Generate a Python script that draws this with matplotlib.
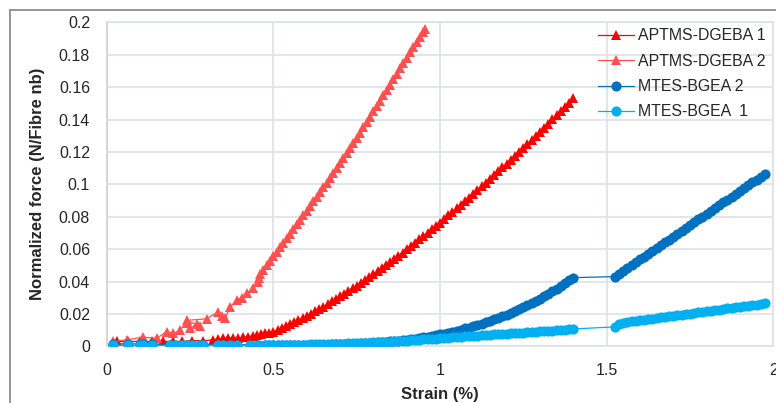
import matplotlib
matplotlib.use("Agg")
import matplotlib.pyplot as plt
from matplotlib.patches import Rectangle

plt.rcParams['font.family'] = ['Liberation Sans', 'DejaVu Sans']

# ---------------- data ----------------
x_ticks = [0, 0.5, 1, 1.5, 2]
x_tick_labels = ["0", "0.5", "1", "1.5", "2"]
y_ticks = [0, 0.02, 0.04, 0.06, 0.08, 0.1, 0.12, 0.14, 0.16, 0.18, 0.2]
y_tick_labels = ["0", "0.02", "0.04", "0.06", "0.08", "0.1", "0.12", "0.14", "0.16", "0.18", "0.2"]

series_names = ["APTMS-DGEBA 1", "APTMS-DGEBA 2", "MTES-BGEA 2", "MTES-BGEA  1"]

# APTMS-DGEBA 1
a1_x = [0.03, 0.065, 0.10, 0.135, 0.17, 0.20, 0.225, 0.255, 0.29, 0.32, 0.335, 0.35, 0.365, 0.38,
        0.395, 0.41, 0.425, 0.44,
        0.45, 0.4625, 0.475, 0.4875, 0.5, 0.5125, 0.525, 0.5375, 0.55, 0.5625, 0.575, 0.5875,
        0.6, 0.6125, 0.625, 0.6375, 0.65, 0.6625, 0.675, 0.6875, 0.7, 0.7125, 0.725, 0.7375,
        0.75, 0.7625, 0.775, 0.7875, 0.8, 0.8125, 0.825, 0.8375, 0.85, 0.8625, 0.875, 0.8875,
        0.9, 0.9125, 0.925, 0.9375, 0.95, 0.9625, 0.975, 0.9875, 1.0, 1.0125, 1.025, 1.0375,
        1.05, 1.0625, 1.075, 1.0875, 1.1, 1.1125, 1.125, 1.1375, 1.15, 1.1625, 1.175, 1.1875,
        1.2, 1.2125, 1.225, 1.2375, 1.25, 1.2625, 1.275, 1.2875, 1.3, 1.3125, 1.325, 1.3375,
        1.35, 1.3625, 1.375, 1.3875, 1.4]
a1_y = [0.003, 0.003, 0.003, 0.003, 0.003, 0.003, 0.003, 0.0035, 0.0035, 0.004, 0.0045, 0.005, 0.005, 0.005,
        0.005, 0.0055, 0.006, 0.0065,
        0.0070, 0.0075, 0.0080, 0.0085, 0.0090, 0.0101, 0.0113, 0.0124, 0.0135, 0.0148, 0.0162, 0.0175,
        0.0188, 0.0202, 0.0217, 0.0231, 0.0245, 0.0261, 0.0277, 0.0292, 0.0308, 0.0325, 0.0342, 0.0358,
        0.0375, 0.0393, 0.0411, 0.0428, 0.0446, 0.0465, 0.0484, 0.0502, 0.0521, 0.0540, 0.0560, 0.0579,
        0.0598, 0.0619, 0.0639, 0.0660, 0.0680, 0.0701, 0.0722, 0.0743, 0.0764, 0.0786, 0.0808, 0.0829,
        0.0851, 0.0873, 0.0896, 0.0918, 0.0940, 0.0963, 0.0987, 0.1010, 0.1033, 0.1057, 0.1081, 0.1104,
        0.1128, 0.1152, 0.1177, 0.1201, 0.1225, 0.1250, 0.1275, 0.1299, 0.1324, 0.1350, 0.1375, 0.1401,
        0.1426, 0.1452, 0.1478, 0.1504, 0.1530]

# APTMS-DGEBA 2
a2_x = [0.02, 0.06, 0.108, 0.15, 0.18, 0.20, 0.22, 0.24, 0.25, 0.27, 0.28, 0.24, 0.30, 0.335, 0.345,
        0.355, 0.37, 0.39, 0.405, 0.42, 0.44, 0.455, 0.457,
        0.46, 0.47, 0.48, 0.49, 0.50, 0.51, 0.52, 0.53, 0.54, 0.55, 0.56, 0.57, 0.58, 0.59,
        0.60, 0.61, 0.62, 0.63, 0.64, 0.65, 0.66, 0.67, 0.68, 0.69, 0.70, 0.71, 0.72, 0.73,
        0.74, 0.75, 0.76, 0.77, 0.78, 0.79, 0.80, 0.81, 0.82, 0.83, 0.84, 0.85, 0.86, 0.87,
        0.88, 0.89, 0.90, 0.91, 0.92, 0.93, 0.94, 0.95, 0.955]
a2_y = [0.003, 0.004, 0.0056, 0.005, 0.009, 0.008, 0.010, 0.0146, 0.011, 0.0138, 0.0125, 0.016, 0.017,
        0.0214, 0.019, 0.0173, 0.024, 0.0286, 0.030, 0.0327, 0.036, 0.0395, 0.042,
        0.0445, 0.0473, 0.0500, 0.0528, 0.0556, 0.0584, 0.0612, 0.0640, 0.0668, 0.0696, 0.0724,
        0.0752, 0.0780, 0.0808, 0.0836, 0.0865, 0.0894, 0.0923, 0.0952, 0.0981, 0.1010, 0.1040,
        0.1070, 0.1100, 0.1130, 0.1161, 0.1192, 0.1223, 0.1255, 0.1287, 0.1319, 0.1352, 0.1385,
        0.1418, 0.1451, 0.1484, 0.1517, 0.1550, 0.1583, 0.1616, 0.1649, 0.1682, 0.1715, 0.1748,
        0.1781, 0.1814, 0.1847, 0.1879, 0.1911, 0.1942, 0.1960]

# shared strain values for the MTES-BGEA series
m_low_x = [0.02, 0.065, 0.10, 0.11, 0.135, 0.19, 0.205, 0.225, 0.24, 0.255, 0.28, 0.29, 0.335, 0.35,
           0.37, 0.39, 0.43, 0.455]
m_seg1_x = [0.475, 0.4875, 0.5, 0.5125, 0.525, 0.5375, 0.55, 0.5625, 0.575, 0.5875,
            0.6, 0.6125, 0.625, 0.6375, 0.65, 0.6625, 0.675, 0.6875, 0.7, 0.7125, 0.725, 0.7375,
            0.75, 0.7625, 0.775, 0.7875, 0.8, 0.8125, 0.825, 0.8375, 0.85, 0.8625, 0.875, 0.8875,
            0.9, 0.9125, 0.925, 0.9375, 0.95, 0.9625, 0.975, 0.9875, 1.0, 1.0125, 1.025, 1.0375,
            1.05, 1.0625, 1.075, 1.0875, 1.1, 1.1125, 1.125, 1.1375, 1.15, 1.1625, 1.175, 1.1875,
            1.2, 1.2125, 1.225, 1.2375, 1.25, 1.2625, 1.275, 1.2875, 1.3, 1.3125, 1.325, 1.3375,
            1.35, 1.3625, 1.375, 1.3875, 1.4]
m_seg2_x = [1.525, 1.5375, 1.55, 1.5625, 1.575, 1.5875, 1.6, 1.6125, 1.625, 1.6375, 1.65, 1.6625,
            1.675, 1.6875, 1.7, 1.7125, 1.725, 1.7375, 1.75, 1.7625, 1.775, 1.7875, 1.8, 1.8125,
            1.825, 1.8375, 1.85, 1.8625, 1.875, 1.8875, 1.9, 1.9125, 1.925, 1.9375, 1.95, 1.9625, 1.975]

# MTES-BGEA 2
m2_low_y = [0.0015, 0.0015, 0.0015, 0.0015, 0.0015, 0.001, 0.001, 0.001, 0.001, 0.001, 0.001, 0.001,
            0.001, 0.001, 0.001, 0.001, 0.001, 0.001]
m2_seg1_y = [0.0010, 0.0010, 0.0010, 0.0010, 0.0010, 0.0010, 0.0010, 0.0010, 0.0010, 0.0010,
             0.0010, 0.0010, 0.0010, 0.0011, 0.0011, 0.0011, 0.0012, 0.0012, 0.0013, 0.0014, 0.0015, 0.0016,
             0.0017, 0.0018, 0.0019, 0.0021, 0.0022, 0.0024, 0.0026, 0.0028, 0.0030, 0.0033, 0.0035, 0.0038,
             0.0041, 0.0045, 0.0048, 0.0052, 0.0055, 0.0060, 0.0064, 0.0069, 0.0073, 0.0079, 0.0085, 0.0090,
             0.0096, 0.0103, 0.0110, 0.0116, 0.0123, 0.0131, 0.0140, 0.0148, 0.0156, 0.0166, 0.0176, 0.0185,
             0.0195, 0.0207, 0.0218, 0.0230, 0.0241, 0.0254, 0.0268, 0.0281, 0.0294, 0.0309, 0.0325, 0.0340,
             0.0355, 0.0372, 0.0390, 0.0407, 0.0424]
m2_seg2_y = [0.0430, 0.0448, 0.0465, 0.0483, 0.0501, 0.0518, 0.0536, 0.0553, 0.0571, 0.0589, 0.0606,
             0.0624, 0.0642, 0.0659, 0.0677, 0.0694, 0.0712, 0.0730, 0.0747, 0.0765, 0.0783, 0.0800,
             0.0818, 0.0835, 0.0853, 0.0871, 0.0888, 0.0906, 0.0924, 0.0941, 0.0959, 0.0976, 0.0994,
             0.1012, 0.1029, 0.1047, 0.1065]

# MTES-BGEA 1
m1_low_y = [0.0005, 0.0005, 0.0005, 0.0005, 0.0005, 0.0005, 0.0005, 0.0005, 0.0005, 0.0005, 0.0005,
            0.0005, 0.0006, 0.0006, 0.0006, 0.0006, 0.0007, 0.0007]
m1_seg1_y = [0.0007, 0.0008, 0.0008, 0.0008, 0.0009, 0.0009, 0.0009, 0.0010, 0.0010, 0.0011,
             0.0011, 0.0012, 0.0012, 0.0013, 0.0013, 0.0014, 0.0015, 0.0015, 0.0016, 0.0017, 0.0018, 0.0018,
             0.0019, 0.0020, 0.0022, 0.0023, 0.0024, 0.0025, 0.0027, 0.0028, 0.0029, 0.0031, 0.0032, 0.0034,
             0.0035, 0.0037, 0.0039, 0.0040, 0.0042, 0.0044, 0.0046, 0.0048, 0.0050, 0.0052, 0.0054, 0.0055,
             0.0057, 0.0059, 0.0061, 0.0062, 0.0064, 0.0066, 0.0068, 0.0069, 0.0071, 0.0073, 0.0075, 0.0076,
             0.0078, 0.0080, 0.0082, 0.0083, 0.0085, 0.0087, 0.0089, 0.0090, 0.0092, 0.0094, 0.0096, 0.0097,
             0.0099, 0.0101, 0.0103, 0.0105, 0.0107]
m1_seg2_y = [0.0120, 0.0135, 0.0145, 0.0150, 0.0154, 0.0157, 0.0160, 0.0164, 0.0167, 0.0171, 0.0174,
             0.0178, 0.0181, 0.0185, 0.0188, 0.0192, 0.0195, 0.0199, 0.0202, 0.0206, 0.0209, 0.0213,
             0.0216, 0.0220, 0.0223, 0.0227, 0.0230, 0.0234, 0.0237, 0.0241, 0.0244, 0.0248, 0.0251,
             0.0255, 0.0258, 0.0262, 0.0265]

# ---------------- figure ----------------
W, H = 776, 403
fig = plt.figure(figsize=(W / 100, H / 100), dpi=100)
fig.patch.set_facecolor('white')

# outer chart border (cropped at right and bottom)
fig.patches.append(Rectangle((10 / W, -0.05), 1.2, (H - 10) / H + 0.05, transform=fig.transFigure,
                             fill=False, edgecolor='#8c8c8c', linewidth=1.3, clip_on=False))

left, right, bottom, top = 106.7, 773.3, 346.3, 22.3
ax = fig.add_axes([left / W, 1 - bottom / H, (right - left) / W, (bottom - top) / H])

grid_c = '#dde1e8'
ax.set_xlim(0, 2)
ax.set_ylim(0, 0.2)
ax.set_xticks(x_ticks)
ax.set_xticklabels(x_tick_labels)
ax.set_yticks(y_ticks)
ax.set_yticklabels(y_tick_labels)
ax.grid(True, color=grid_c, linewidth=1.2, zorder=0)
ax.set_axisbelow(True)
for s in ax.spines.values():
    s.set_color(grid_c)
    s.set_linewidth(1.2)
ax.spines['left'].set_color('#c9d1e0')
ax.tick_params(length=0, labelsize=11.5, colors='#262626')
ax.tick_params(axis='x', pad=12)
ax.tick_params(axis='y', pad=12)

c_a1, c_a2, c_m2, c_m1 = '#ff0000', '#ff4f4f', '#0070c0', '#00b0f0'

ax.plot(a1_x, a1_y, color=c_a1, lw=0.9, marker='^', ms=7.2, mec=c_a1, mfc=c_a1, mew=0,
        label=series_names[0], zorder=3)
ax.plot(a2_x, a2_y, color=c_a2, lw=0.9, marker='^', ms=7.2, mec=c_a2, mfc=c_a2, mew=0,
        label=series_names[1], zorder=4)
ax.plot(m_low_x + m_seg1_x + m_seg2_x, m2_low_y + m2_seg1_y + m2_seg2_y, color=c_m2, lw=0.9,
        marker='o', ms=7.3, mec=c_m2, mfc=c_m2, mew=0, label=series_names[2], zorder=5)
ax.plot(m_low_x + m_seg1_x + m_seg2_x, m1_low_y + m1_seg1_y + m1_seg2_y, color=c_m1, lw=0.9,
        marker='o', ms=7.3, mec=c_m1, mfc=c_m1, mew=0, label=series_names[3], zorder=6)

ax.set_xlabel("Strain (%)", fontsize=12, fontweight='bold', color='#262626')
ax.xaxis.set_label_coords(0.5, -0.125)
ax.set_ylabel("Normalized force (N/Fibre nb)", fontsize=12, fontweight='bold', color='#262626')
ax.yaxis.set_label_coords(-0.093, 0.5)

leg = ax.legend(loc='upper left', bbox_to_anchor=((598.3 - left) / (right - left), (bottom - 28.5) / (bottom - top)),
                frameon=False, fontsize=11.4, borderpad=0, borderaxespad=0, handlelength=2.25,
                handletextpad=0.25, labelspacing=0.65)
for t in leg.get_texts():
    t.set_color('#262626')

fig.savefig("out.png", dpi=100)
